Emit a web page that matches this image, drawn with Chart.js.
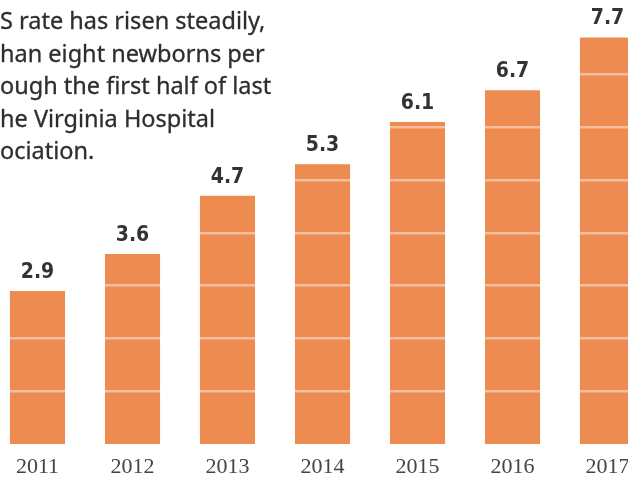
<!DOCTYPE html>
<html>
<head>
<meta charset="utf-8">
<script src="https://cdn.jsdelivr.net/npm/chart.js@4"></script>
<style>
  html, body { margin: 0; padding: 0; background: #fff; overflow: hidden; }
  #wrap { position: relative; width: 628px; height: 480px; overflow: hidden; }
  #box { position: absolute; left: -10px; top: 0; width: 665px; height: 480px; }
  #note {
    position: absolute; left: 0; top: 4px; margin: 0;
    font-family: "Noto Sans", sans-serif; font-size: 23.5px; line-height: 32.5px;
    color: #2e2e2e; white-space: pre; -webkit-text-stroke: 0.3px #2e2e2e;
  }
</style>
</head>
<body>
<div id="wrap">
  <div id="box"><canvas id="myChart-barra"></canvas></div>
  <p id="note">S rate has risen steadily,
han eight newborns per
ough the first half of last
he Virginia Hospital
ociation.</p>
</div>
<script>
const years = ["2011", "2012", "2013", "2014", "2015", "2016", "2017"];
const rates = [2.9, 3.6, 4.7, 5.3, 6.1, 6.7, 7.7];
const gridTicks = [1, 2, 3, 4, 5, 6, 7, 8];

// draws the value above each bar (after the white grid)
const valueLabels = {
  id: "valueLabels",
  afterDraw(chart) {
    const ctx = chart.ctx;
    const meta = chart.getDatasetMeta(0);
    ctx.save();
    ctx.font = "bold 21px 'DejaVu Sans Condensed', 'DejaVu Sans'";
    ctx.fillStyle = "#333";
    ctx.textAlign = "center";
    ctx.textBaseline = "bottom";
    meta.data.forEach((bar, i) => {
      ctx.fillText(rates[i].toFixed(1), bar.x, bar.y - 8);
    });
    ctx.restore();
  }
};

function grafico_barra(){
  const ctx = document.getElementById("myChart-barra");
  new Chart(ctx, {
    type: "bar",
    data: {
      labels: years,
      datasets: [
        {
          data: rates,
          backgroundColor: "#ED8B51",
          borderWidth: 0,
          barPercentage: 0.58,
          categoryPercentage: 1,
        },
      ],
    },
    plugins: [valueLabels],
    options: {
      responsive: false,
      animation: false,
      layout: { padding: 0 },
      plugins: { legend: { display: false }, tooltip: { enabled: false } },
      scales: {
        x: {
          grid: { display: false },
          border: { display: false },
          ticks: {
            color: "#444",
            font: { family: "'Liberation Serif'", size: 22 },
            padding: 2,
          },
          afterFit(scale) { scale.height = 36; },
        },
        y: {
          min: 0,
          max: 8.41,
          afterBuildTicks(scale) { scale.ticks = gridTicks.map(v => ({ value: v })); },
          ticks: { display: false },
          grid: { color: "rgba(255,255,255,0.45)", lineWidth: 2.5, drawTicks: false, z: 1 },
          border: { display: false },
          afterFit(scale) { scale.width = 0; },
        },
      },
    },
  });
}
const c = document.getElementById("myChart-barra");
c.width = 665; c.height = 480;
grafico_barra()
</script>
</body>
</html>
